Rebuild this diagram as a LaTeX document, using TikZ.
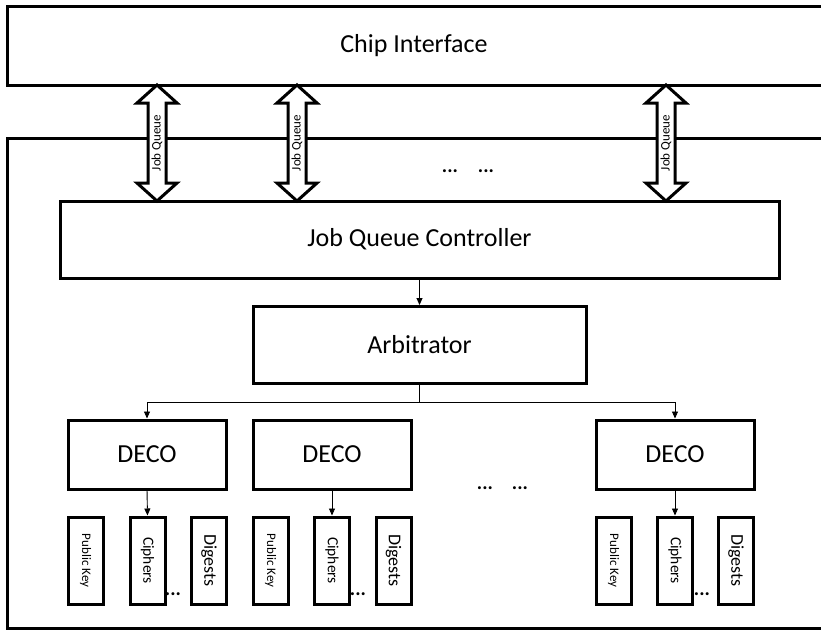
\documentclass[tikz,border=0pt]{standalone}
\usepackage{fontspec}
\setmainfont{Carlito}
\usetikzlibrary{arrows.meta,calc}
\begin{document}
\begin{tikzpicture}[x=1pt,y=-1pt,
  box/.style={draw, line width=3pt, outer sep=0pt, inner sep=0pt, line join=miter},
  big/.style={font=\fontsize{26}{30}\selectfont},
  small/.style={box, minimum width=35, minimum height=87},
  link/.style={-{Triangle[length=7pt,width=6pt]}, line width=0.9pt, shorten >=1.5pt, shorten <=1.5pt},
  wire/.style={line width=0.9pt},
  dbl/.style={draw, fill=white, line width=3pt, line join=miter},
  jqtext/.style={font=\fontsize{13}{15}\selectfont, rotate=90, inner sep=0pt},
  dots/.style={font=\bfseries\fontsize{20}{22}\selectfont, anchor=base, inner sep=0pt}
]
\useasboundingbox (0,0) rectangle (821,630);
\clip (0,0) rectangle (821,630);

% frames
\node[box, minimum width=833, minimum height=79] (ci) at (423.5,45.5) {};
\node[big] (citext) at (414,45.5) {Chip Interface};
\node[box, minimum width=833, minimum height=490] (frame) at (423.5,383.5) {};

% job queue controller and arbitrator
\node[box, big, minimum width=719, minimum height=77] (jqc) at (419.5,239.5) {Job Queue Controller};
\node[box, big, minimum width=333, minimum height=77] (arb) at (419.5,345) {Arbitrator};

% DECO boxes
\node[box, big, minimum width=158, minimum height=69] (deco1) at (147,454.5) {DECO};
\node[box, big, minimum width=158, minimum height=69] (deco2) at (332,454.5) {DECO};
\node[box, big, minimum width=158, minimum height=69] (deco3) at (675,454.5) {DECO};

% small boxes
\foreach \n/\x in {1/85.5,2/270.5,3/613.5} {
  \node[small] (pk\n) at (\x,560.5) {};
  \node[font=\fontsize{13}{15}\selectfont, rotate=-90, inner sep=0pt] at (pk\n) {Public Key};
}
\foreach \n/\x in {1/147.5,2/332,3/675} {
  \node[small] (cph\n) at (\x,560.5) {};
  \node[font=\fontsize{15.5}{17}\selectfont, rotate=-90, inner sep=0pt] at (cph\n) {Ciphers};
}
\foreach \n/\x in {1/209,2/393.5,3/736} {
  \node[small] (dig\n) at (\x,560.5) {};
  \node[font=\fontsize{18}{20}\selectfont, rotate=-90, inner sep=0pt] at (dig\n) {Digests};
}

% double arrows (Job Queue)
\foreach \n/\x in {a/157,b/297,c/666} {
  \coordinate (top\n) at (\x,0 |- ci.south);
  \coordinate (bot\n) at (\x,0 |- jqc.north);
  \draw[dbl] (top\n) -- ($(top\n)+(20,18)$) -- ($(top\n)+(9,18)$)
     -- ($(bot\n)+(9,-18)$) -- ($(bot\n)+(20,-18)$) -- (bot\n)
     -- ($(bot\n)+(-20,-18)$) -- ($(bot\n)+(-9,-18)$)
     -- ($(top\n)+(-9,18)$) -- ($(top\n)+(-20,18)$) -- cycle;
  \node[jqtext] (jqt\n) at ($(top\n)!0.5!(bot\n)$) {Job Queue};
}

% connectors
\draw[link] (jqc.south) -- (arb.north);
\coordinate (split) at (arb.south |- 0,402);
\draw[wire] (arb.south) -- (split);
\draw[link, shorten <=0pt] (split) -| (deco1.north);
\draw[link, shorten <=0pt] (split) -| (deco3.north);
\draw[link] (deco1.south) -- (cph1.north);
\draw[link] (deco2.south) -- (cph2.north);
\draw[link] (deco3.south) -- (cph3.north);

% ellipses
\node[dots] (e1) at (450,172) {...};
\node[dots] (e2) at (486,172) {...};
\node[dots] (e3) at (485,489) {...};
\node[dots] (e4) at (520,489) {...};
\node[dots] (e5) at (173,595) {...};
\node[dots] (e6) at (358,595) {...};
\node[dots] (e7) at (702,595) {...};
\end{tikzpicture}
\end{document}
